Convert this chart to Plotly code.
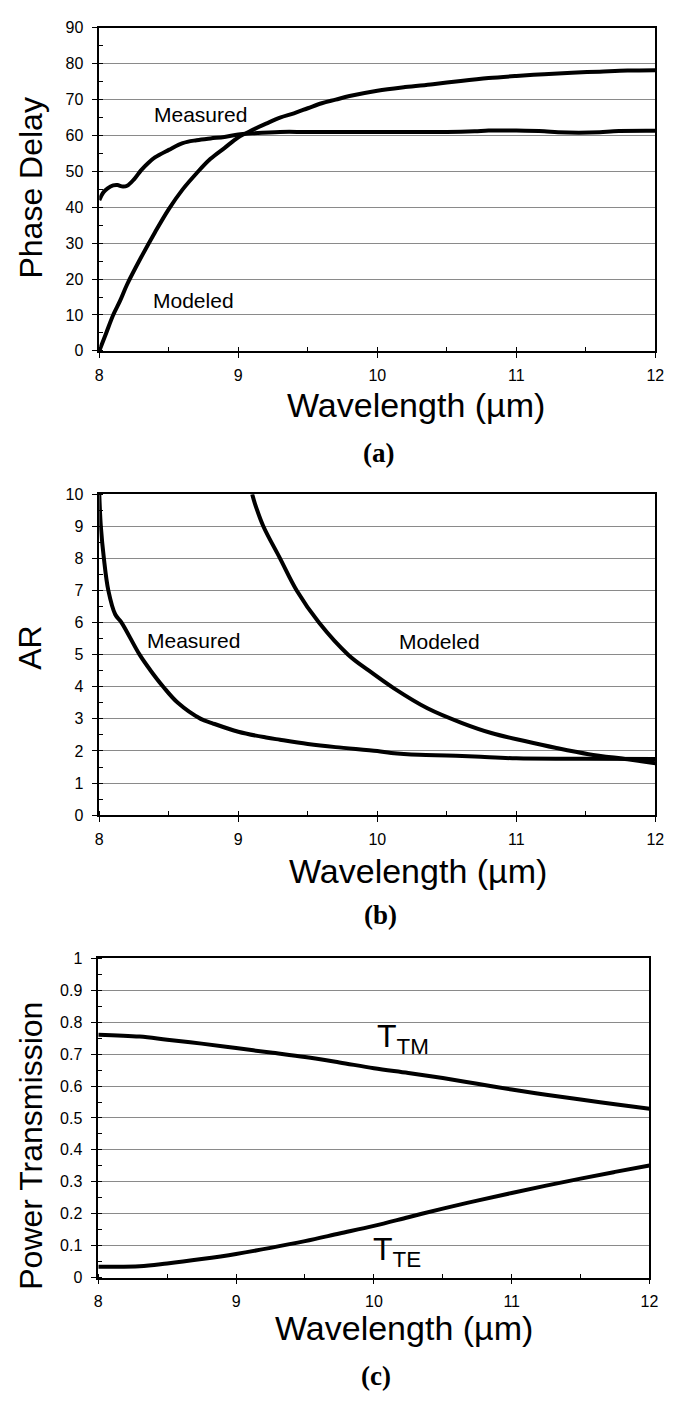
import plotly.graph_objects as go

# ---------- data ----------
# Panel (a): Phase delay
a_meas_x = [8.0, 8.03, 8.06, 8.1, 8.13, 8.17, 8.2, 8.25, 8.3, 8.35, 8.4, 8.5, 8.6, 8.7, 8.8, 8.9, 9.0, 9.1,
            9.3, 9.5, 10.0, 10.5, 10.7, 10.8, 11.0, 11.2, 11.3, 11.6, 11.7, 12.0]
a_meas_y = [42.0, 44.2, 45.3, 46.1, 46.2, 45.8, 46.0, 47.8, 50.3, 52.3, 53.9, 56.0, 57.9, 58.7, 59.2, 59.6, 60.3, 60.6,
            61.0, 61.0, 61.0, 61.0, 61.2, 61.4, 61.4, 61.2, 60.9, 60.9, 61.2, 61.3]
a_mod_x = [8.0, 8.05, 8.1, 8.15, 8.2, 8.3, 8.4, 8.5, 8.6, 8.7, 8.8, 8.9, 9.0, 9.1, 9.2, 9.3, 9.4, 9.5, 9.6, 9.7,
           9.8, 10.0, 10.2, 10.4, 10.6, 10.8, 11.0, 11.2, 11.4, 11.6, 11.8, 12.0]
a_mod_y = [0.0, 5.0, 10.0, 14.0, 18.5, 26.0, 33.0, 39.5, 45.0, 49.5, 53.5, 56.5, 59.5, 61.5, 63.3, 65.0, 66.2, 67.6,
           69.0, 70.0, 71.0, 72.5, 73.5, 74.3, 75.2, 76.0, 76.6, 77.1, 77.5, 77.8, 78.1, 78.2]

# Panel (b): AR
b_meas_x = [8.0, 8.011, 8.033, 8.065, 8.115, 8.16, 8.29, 8.37, 8.46, 8.565, 8.73, 8.81, 9.0, 9.2, 9.3, 9.5, 9.7,
            10.0, 10.1, 10.3, 10.5, 10.7, 11.0, 11.5, 12.0]
b_meas_y = [10.0, 9.0, 8.0, 7.0, 6.25, 6.0, 5.0, 4.5, 4.0, 3.5, 3.0, 2.87, 2.6, 2.42, 2.35, 2.22, 2.12,
            2.0, 1.94, 1.88, 1.86, 1.83, 1.77, 1.76, 1.75]
b_mod_x = [9.1, 9.12, 9.18, 9.3, 9.42, 9.58, 9.79, 9.94, 10.12, 10.36, 10.61, 10.82, 11.06, 11.28, 11.52, 11.8, 12.0]
b_mod_y = [10.0, 9.7, 9.0, 8.0, 7.0, 6.0, 5.0, 4.5, 3.95, 3.33, 2.87, 2.56, 2.31, 2.1, 1.9, 1.74, 1.62]

# Panel (c): Power transmission
c_x = [8.0, 8.3, 8.5, 8.75, 9.0, 9.25, 9.5, 9.75, 10.0, 10.25, 10.5, 10.75, 11.0, 11.25, 11.5, 11.75, 12.0]
c_tm = [0.761, 0.755, 0.745, 0.733, 0.719, 0.705, 0.691, 0.674, 0.656, 0.641, 0.625, 0.607, 0.589, 0.573, 0.558,
        0.543, 0.529]
c_te = [0.034, 0.035, 0.044, 0.058, 0.074, 0.093, 0.114, 0.138, 0.162, 0.189, 0.216, 0.241, 0.265, 0.288, 0.310,
        0.331, 0.351]

x_ticks = [8, 9, 10, 11, 12]

# ---------- figure ----------
W, H = 675, 1402
OFF = 8  # page body margin compensation
FONT = "Liberation Sans, Arial, sans-serif"
SERIF = "Liberation Serif, Times New Roman, serif"

def px_x(p):
    return (p - OFF) / W

def px_y(p):
    return 1 - (p - OFF) / H

fig = go.Figure()
line = dict(color="black", width=4)

for xs, ys, ax in [(a_meas_x, a_meas_y, 1), (a_mod_x, a_mod_y, 1), (b_meas_x, b_meas_y, 2),
                   (b_mod_x, b_mod_y, 2), (c_x, c_tm, 3), (c_x, c_te, 3)]:
    fig.add_trace(go.Scatter(x=xs, y=ys, mode="lines", line=line, line_shape="spline",
                             xaxis="x" if ax == 1 else f"x{ax}", yaxis="y" if ax == 1 else f"y{ax}",
                             showlegend=False, cliponaxis=True))

tickfont = dict(family=FONT, size=16, color="black")

def xaxis(dom, anchor):
    return dict(domain=dom, anchor=anchor, range=[8, 12], tickvals=x_ticks, ticktext=[str(t) for t in x_ticks],
                showgrid=False, zeroline=False, showline=True, linecolor="black", linewidth=1.5, mirror=True,
                ticks="outside", ticklen=5, tickcolor="black", tickwidth=1, tickfont=tickfont,
                ticklabelstandoff=4,
                minor=dict(dtick=0.5, tick0=8, ticks="inside", ticklen=4, tickcolor="black", showgrid=False))

def yaxis(dom, anchor, rng, dtick, minor_dtick):
    return dict(domain=dom, anchor=anchor, range=rng, dtick=dtick, tick0=0,
                showgrid=True, gridcolor="#8a8a8a", gridwidth=1, zeroline=False,
                showline=True, linecolor="black", linewidth=1.5, mirror=True,
                ticks="outside", ticklen=6, tickcolor="black", tickwidth=1, tickfont=tickfont,
                ticklabelstandoff=5,
                minor=dict(dtick=minor_dtick, tick0=0, ticks="inside", ticklen=4, tickcolor="black",
                           showgrid=False))

fig.update_layout(
    width=W, height=H,
    margin=dict(l=0, r=0, t=0, b=0),
    paper_bgcolor="white", plot_bgcolor="white",
    xaxis=xaxis([px_x(97), px_x(664)], "y"),
    yaxis=yaxis([px_y(347), px_y(20)], "x", [0, 90], 10, 5),
    xaxis2=xaxis([px_x(97), px_x(664)], "y2"),
    yaxis2=yaxis([px_y(817), px_y(492)], "x2", [0, 10], 1, 0.5),
    xaxis3=xaxis([px_x(96), px_x(658)], "y3"),
    yaxis3=yaxis([px_y(1285), px_y(962)], "x3", [0, 1], 0.1, 0.05),
)

anns = []

def paper_text(text, x, y, size, family=FONT, angle=0, bold=False):
    t = f"<b>{text}</b>" if bold else text
    anns.append(dict(text=t, x=px_x(x), y=px_y(y), xref="paper", yref="paper", showarrow=False,
                     xanchor="center", yanchor="middle", textangle=angle,
                     font=dict(family=family, size=size, color="black")))

# axis titles
paper_text("Phase Delay", 27, 182, 32, angle=-90)
paper_text("AR", 27, 648, 32, angle=-90)
paper_text("Power Transmission", 27, 1152, 32, angle=-90)
paper_text("Wavelength (µm)", 420, 402, 34)
paper_text("Wavelength (µm)", 422, 873, 34)
paper_text("Wavelength (µm)", 408, 1336, 34)
paper_text("(a)", 382, 450, 27, family=SERIF, bold=True)
paper_text("(b)", 384, 918, 27, family=SERIF, bold=True)
paper_text("(c)", 379, 1385, 27, family=SERIF, bold=True)

# in-plot labels (data coordinates)
def data_text(text, x, y, xref, yref, size):
    anns.append(dict(text=text, x=x, y=y, xref=xref, yref=yref, showarrow=False,
                     xanchor="center", yanchor="middle", font=dict(family=FONT, size=size, color="black")))

data_text("Measured", 8.73, 65.8, "x", "y", 21)
data_text("Modeled", 8.68, 14, "x", "y", 21)
data_text("Measured", 8.68, 5.45, "x2", "y2", 21)
data_text("Modeled", 10.45, 5.4, "x2", "y2", 21)
data_text("T<sub>TM</sub>", 10.21, 0.75, "x3", "y3", 32)
data_text("T<sub>TE</sub>", 10.17, 0.08, "x3", "y3", 32)

fig.update_layout(annotations=anns)
fig.write_html("out.html")
